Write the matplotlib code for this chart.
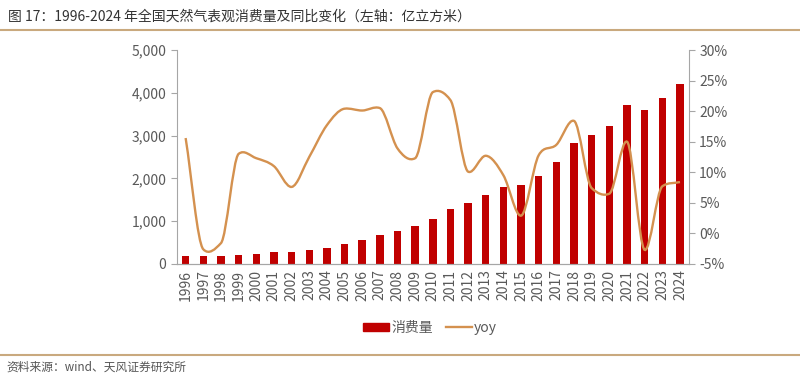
import numpy as np
import matplotlib
matplotlib.use('Agg')
import matplotlib.pyplot as plt
from matplotlib.path import Path
from matplotlib.patches import PathPatch, Patch
from matplotlib.lines import Line2D
from matplotlib.ticker import FuncFormatter

plt.rcParams['font.family'] = ['Noto Sans CJK SC', 'DejaVu Sans']

# data
years = [str(y) for y in range(1996, 2025)]
consumption = [194, 180, 180, 218, 234, 273, 280, 320, 381, 475, 553, 678, 771, 880,
               1058, 1292, 1425, 1612, 1799, 1846, 2063, 2383, 2820, 3021, 3224, 3715,
               3605, 3871, 4213]
yoy = [15.6, -2.6, -1.6, 13.0, 12.3, 11.0, 7.6, 12.5, 17.7, 20.4, 20.1, 20.5, 13.9, 12.3,
       23.1, 21.8, 10.1, 12.7, 9.5, 2.9, 12.8, 14.5, 18.4, 7.4, 6.5, 15.0, -2.7, 7.7, 8.4]

bar_color = '#C00000'
line_color = '#D4914F'
text_color = '#595959'
rule_color = '#C9A97E'

fig = plt.figure(figsize=(8, 3.76), dpi=100)
ax = fig.add_axes([0.221, 0.298, 0.64, 0.569])
ax2 = ax.twinx()

x = np.arange(len(years))
ax.bar(x, consumption, width=0.42, color=bar_color, zorder=2)
ax.set_xlim(-0.5, len(years) - 0.5)
ax.set_ylim(0, 5000)
ax.set_yticks(range(0, 5001, 1000))
ax.yaxis.set_major_formatter(FuncFormatter(lambda v, p: f'{int(v):,}'))
ax.set_xticks(x)
ax.set_xticklabels(years, rotation=90)

# smoothed yoy line: bezier through the points, softened tangents at peaks/dips
n = len(yoy)
slopes = []
for i in range(n):
    lo, hi = max(i - 1, 0), min(i + 1, n - 1)
    m = (yoy[hi] - yoy[lo]) / (hi - lo)
    if 0 < i < n - 1:
        dl, dr = yoy[i] - yoy[i - 1], yoy[i + 1] - yoy[i]
        if dl * dr <= 0:
            m *= 0.35
        else:
            lim = 3 * min(abs(dl), abs(dr))
            m = max(-lim, min(lim, m))
    slopes.append(m)
verts = [(x[0], yoy[0])]
codes = [Path.MOVETO]
for i in range(n - 1):
    verts += [(x[i] + 1 / 3, yoy[i] + slopes[i] / 3),
              (x[i + 1] - 1 / 3, yoy[i + 1] - slopes[i + 1] / 3),
              (x[i + 1], yoy[i + 1])]
    codes += [Path.CURVE4] * 3
ax2.add_patch(PathPatch(Path(verts, codes), facecolor='none', edgecolor=line_color,
                        lw=1.7, zorder=3))
ax2.set_ylim(-5, 30)
ax2.set_yticks(range(-5, 31, 5))
ax2.yaxis.set_major_formatter(FuncFormatter(lambda v, p: f'{int(v)}%'))

for a in (ax, ax2):
    a.spines['top'].set_visible(False)
    for s in ('left', 'right', 'bottom'):
        a.spines[s].set_color('#A6A6A6')
        a.spines[s].set_linewidth(0.8)
    a.tick_params(axis='y', colors='#A6A6A6', labelcolor=text_color, labelsize=10,
                  length=4, width=0.8)
ax.tick_params(axis='x', length=0, labelsize=10, labelcolor=text_color, pad=4)
ax2.spines['left'].set_visible(False)
ax.spines['right'].set_visible(False)

handles = [Patch(color=bar_color), Line2D([], [], color=line_color, lw=1.7)]
fig.legend(handles, ['消费量', 'yoy'], loc='center', bbox_to_anchor=(0.5375, 0.128),
           ncol=2, frameon=False, fontsize=10, handlelength=1.9, handleheight=0.6,
           columnspacing=0.9, handletextpad=0.15, labelcolor=text_color)

fig.text(0.01, 0.955, '图 17：1996-2024 年全国天然气表观消费量及同比变化（左轴：亿立方米）',
         fontsize=10, color='#333333', va='center', ha='left')
fig.add_artist(Line2D([0, 1], [0.92, 0.92], color=rule_color, lw=1.5))
fig.add_artist(Line2D([0, 1], [0.056, 0.056], color=rule_color, lw=1.5))
fig.text(0.008, 0.024, '资料来源：wind、天风证券研究所', fontsize=8.5, color='#555555',
         va='center', ha='left')

fig.savefig('out.png', dpi=100)
